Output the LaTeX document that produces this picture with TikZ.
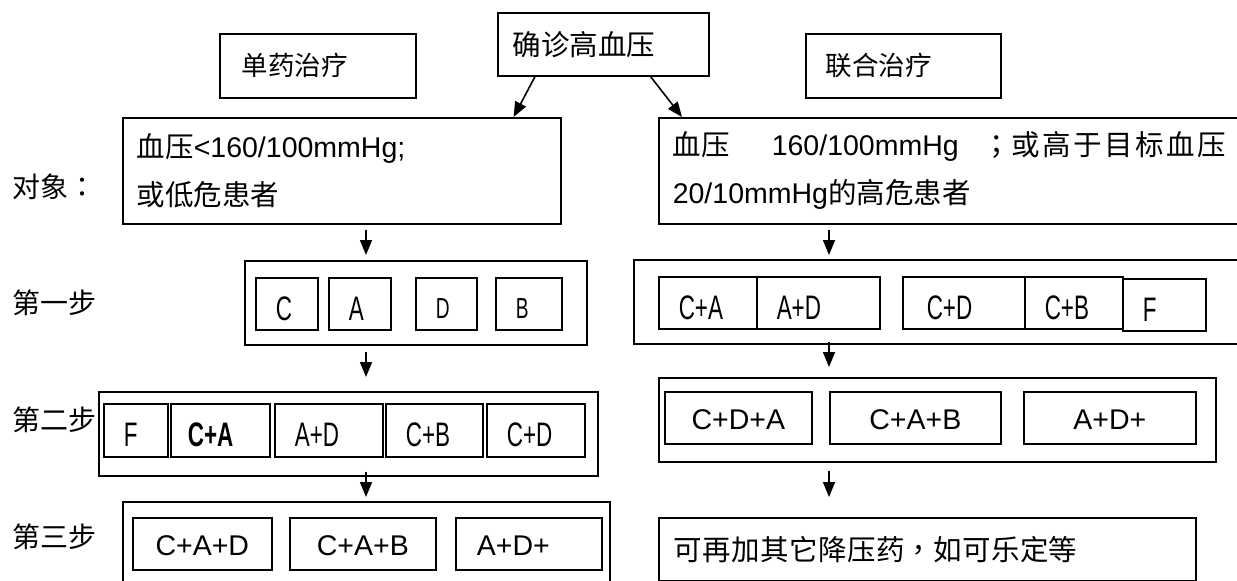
\documentclass[tikz,border=0pt]{standalone}
\usepackage{fontspec}
\setmainfont{Liberation Sans}
\newfontfamily\zhfont{Noto Sans CJK SC}
\newfontfamily\zhpunct{Noto Sans CJK TC}
\newfontfamily\zhwide{Noto Sans CJK SC}[LetterSpace=9]
\newfontfamily\zhmid{Noto Sans CJK SC}[LetterSpace=1.5]
\newfontfamily\narrowfont{Liberation Sans}[FakeStretch=0.66]
\usetikzlibrary{arrows.meta}
\tikzset{
  txtbox/.style={draw,line width=1.6pt,anchor=north west,inner ysep=0pt,align=left,font=\fontsize{28.5}{48}\selectfont},
  outerbox/.style={draw,line width=1.6pt,anchor=north west,inner sep=0pt},
  cellbox/.style={draw,line width=1.7pt,anchor=north west,inner ysep=0pt,inner xsep=20pt,align=left,text height=33pt,text depth=0pt,font=\narrowfont\fontsize{34}{34}\selectfont},
  plaincell/.style={cellbox,line width=1.5pt},
  sumcell/.style={cellbox,inner xsep=0pt,align=center,text height=24pt,font=\fontsize{28.5}{30}\selectfont},
  steplbl/.style={anchor=west,inner sep=0pt,font=\zhfont\fontsize{28}{30}\selectfont},
  arr/.style={-{Triangle[length=15pt,width=12pt]},line width=1.6pt}
}
\begin{document}
\begin{tikzpicture}[x=1pt,y=-1pt]
  \useasboundingbox (0,0) rectangle (1237,581);
  % top row
  \node[txtbox,minimum width=211,minimum height=63,inner xsep=15pt,text width=181pt] (diag) at (497,12) {\zhfont 确诊高血压};
  \node[txtbox,minimum width=196,minimum height=64,inner xsep=22pt,text width=152pt,font=\zhfont\fontsize{26.5}{30}\selectfont] (mono) at (219,33) {单药治疗};
  \node[txtbox,minimum width=195,minimum height=64,inner xsep=20pt,text width=155pt,font=\zhfont\fontsize{26.5}{30}\selectfont] (combo) at (805,33) {联合治疗};

  % target patients
  \node[steplbl] (objlbl) at (12,187) {对象{\zhpunct ：}};
  \node[txtbox,minimum width=438,minimum height=106,inner xsep=14pt,text width=410pt] (lobj) at (122,117)
    {{\zhfont 血压}<160/100mmHg;\\{\zhfont 或低危患者}};
  \node[txtbox,minimum width=590,minimum height=106,inner xsep=14pt,text width=562pt] (robj) at (658,117)
    {{\zhfont 血压}\hspace{42pt}160/100mmHg\hspace{24pt}{\zhpunct ；}{\zhwide 或高于目标血压}\\20/10mmHg{\zhfont 的高危患者}};
  \draw[arr] ([xshift=38pt]diag.south west) -- ([xshift=-48pt]lobj.north east);
  \draw[arr] ([xshift=-59pt]diag.south east) -- ([xshift=24pt]robj.north west);

  % step labels
  \node[steplbl] (lblone) at (12,303) {第一步};
  \node[steplbl] (lbltwo) at (12,420) {第二步};
  \node[steplbl] (lblthree) at (12,537) {第三步};

  % single drug, left
  \node[outerbox,minimum width=342,minimum height=84] (lstepone) at (244,260) {};
  \node[cellbox,minimum width=62,minimum height=52,text width=22pt] (lc) at (255,277) {C};
  \node[cellbox,minimum width=62,minimum height=52,text width=22pt] (la) at (328,277) {A};
  \node[cellbox,minimum width=61,minimum height=52,text width=21pt,text height=29pt,font=\narrowfont\fontsize{29}{30}\selectfont] (ld) at (415,277) {D};
  \node[cellbox,minimum width=66,minimum height=52,text width=26pt,text height=29pt,font=\narrowfont\fontsize{29}{30}\selectfont] (lb) at (495,277) {B};

  \node[outerbox,minimum width=499,minimum height=84] (lsteptwo) at (98,391) {};
  \node[cellbox,minimum width=64,minimum height=53,text width=24pt] (lf) at (103,403) {F};
  \node[cellbox,minimum width=99,minimum height=53,inner xsep=17pt,text width=65pt] (lca) at (170,403) {\bfseries C+A};
  \node[cellbox,minimum width=108,minimum height=53,text width=68pt] (lad) at (274,403) {A+D};
  \node[cellbox,minimum width=97,minimum height=53,text width=57pt] (lcb) at (385,403) {C+B};
  \node[cellbox,minimum width=98,minimum height=53,text width=58pt] (lcd) at (486,403) {C+D};

  \node[outerbox,minimum width=487,minimum height=100] (lstepthree) at (122,501) {};
  \node[sumcell,minimum width=139,minimum height=52] (lcad) at (132,517) {C+A+D};
  \node[sumcell,minimum width=146,minimum height=52] (lcab) at (289,517) {C+A+B};
  \node[sumcell,minimum width=146,minimum height=52,inner xsep=21pt,text width=104pt,align=left] (ladx) at (455,517) {A+D+};

  % combination, right
  \node[outerbox,minimum width=620,minimum height=84] (rstepone) at (633,259) {};
  \node[plaincell,minimum width=98,minimum height=52,text width=58pt] (rca) at (658,276) {C+A};
  \node[plaincell,minimum width=123,minimum height=52,text width=83pt] (rad) at (756,276) {A+D};
  \node[plaincell,minimum width=122,minimum height=52,inner xsep=24pt,text width=74pt] (rcd) at (902,276) {C+D};
  \node[plaincell,minimum width=98,minimum height=52,text width=58pt] (rcb) at (1024,276) {C+B};
  \node[plaincell,minimum width=83,minimum height=52,text width=43pt] (rf) at (1122,278) {F};

  \node[outerbox,minimum width=557,minimum height=84] (rsteptwo) at (658,377) {};
  \node[sumcell,minimum width=147,minimum height=52] (rcda) at (664,391) {C+D+A};
  \node[sumcell,minimum width=171,minimum height=52] (rcab) at (829,391) {C+A+B};
  \node[sumcell,minimum width=172,minimum height=52] (radx) at (1023,391) {A+D+};

  \node[txtbox,minimum width=537,minimum height=63,inner xsep=15pt,text width=507pt] (rstepthree) at (658,517)
    {{\zhmid 可再加其它降压药}{\zhpunct ，}{\zhmid 如可乐定等}};

  % downward arrows
  \coordinate (lcol) at (366,0);
  \coordinate (rcol) at (829,0);
  \draw[arr,shorten <=5pt,shorten >=5pt] (lobj.south -| lcol) -- (lstepone.north -| lcol);
  \draw[arr,shorten <=6pt,shorten >=14pt] (lstepone.south -| lcol) -- (lsteptwo.north -| lcol);
  \draw[arr,shorten <=-5pt,shorten >=4pt] (lsteptwo.south -| lcol) -- (lstepthree.north -| lcol);
  \draw[arr,shorten <=5pt,shorten >=4pt] (robj.south -| rcol) -- (rstepone.north -| rcol);
  \draw[arr,shorten <=-3pt,shorten >=10pt] (rstepone.south -| rcol) -- (rsteptwo.north -| rcol);
  \draw[arr,shorten <=8pt,shorten >=20pt] (rsteptwo.south -| rcol) -- (rstepthree.north -| rcol);
\end{tikzpicture}
\end{document}
